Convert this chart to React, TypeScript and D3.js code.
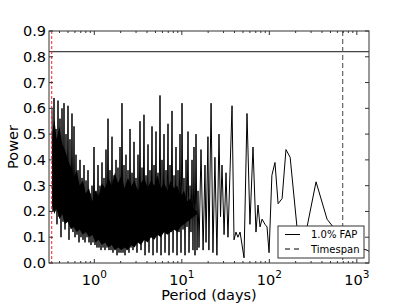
import { area, line, scaleLinear, scaleLog } from 'd3'

// periodogram trace, [period (days), power]
const trace: [number, number][] = [
  [0.3284, 0.6], [0.3372, 0.2], [0.3462, 0.64], [0.3554, 0.22], [0.3649, 0.52], [0.3746, 0.15],
  [0.3846, 0.63], [0.3949, 0.18], [0.4054, 0.56], [0.4162, 0.1], [0.4273, 0.6], [0.4387, 0.16],
  [0.4504, 0.62], [0.4624, 0.13], [0.4747, 0.5], [0.4874, 0.17], [0.5004, 0.61], [0.5137, 0.09],
  [0.5274, 0.48], [0.5415, 0.14], [0.5559, 0.58], [0.5707, 0.12], [0.586, 0.53], [0.6016, 0.1],
  [0.6176, 0.42], [0.6341, 0.11], [0.651, 0.36], [0.6684, 0.08], [0.6862, 0.4], [0.7045, 0.1],
  [0.7233, 0.33], [0.7426, 0.09], [0.7624, 0.38], [0.7827, 0.08], [0.8036, 0.32], [0.825, 0.1],
  [0.847, 0.36], [0.8696, 0.08], [0.8928, 0.27], [0.9166, 0.07], [0.9411, 0.3], [0.9662, 0.08],
  [0.992, 0.45], [1.018, 0.07], [1.046, 0.28], [1.073, 0.06], [1.102, 0.38], [1.131, 0.06],
  [1.162, 0.3], [1.193, 0.05], [1.224, 0.39], [1.257, 0.06], [1.29, 0.33], [1.325, 0.05],
  [1.36, 0.44], [1.396, 0.06], [1.434, 0.56], [1.472, 0.05], [1.511, 0.36], [1.551, 0.05],
  [1.593, 0.49], [1.635, 0.04], [1.679, 0.34], [1.724, 0.05], [1.77, 0.4], [1.817, 0.03],
  [1.865, 0.37], [1.915, 0.04], [1.966, 0.45], [2.018, 0.04], [2.072, 0.62], [2.128, 0.04],
  [2.184, 0.38], [2.243, 0.03], [2.302, 0.42], [2.364, 0.05], [2.427, 0.36], [2.491, 0.04],
  [2.558, 0.52], [2.626, 0.06], [2.696, 0.35], [2.768, 0.05], [2.842, 0.47], [2.918, 0.07],
  [2.995, 0.33], [3.075, 0.04], [3.157, 0.42], [3.241, 0.09], [3.328, 0.55], [3.417, 0.05],
  [3.508, 0.37], [3.601, 0.1], [3.697, 0.575], [3.796, 0.03], [3.897, 0.34], [4.001, 0.11],
  [4.108, 0.46], [4.217, 0.04], [4.33, 0.36], [4.445, 0.12], [4.564, 0.53], [4.685, 0.03],
  [4.81, 0.38], [4.939, 0.11], [5.07, 0.51], [5.206, 0.04], [5.344, 0.35], [5.487, 0.12],
  [5.633, 0.65], [5.783, 0.03], [5.938, 0.4], [6.096, 0.12], [6.258, 0.5], [6.425, 0.04],
  [6.597, 0.36], [6.773, 0.13], [6.953, 0.54], [7.139, 0.03], [7.329, 0.38], [7.525, 0.12],
  [7.725, 0.59], [7.931, 0.04], [8.143, 0.34], [8.36, 0.13], [8.583, 0.45], [8.812, 0.03],
  [9.047, 0.36], [9.288, 0.12], [9.536, 0.5], [9.79, 0.04], [10.05, 0.62], [10.32, 0.13],
  [10.59, 0.33], [10.88, 0.03], [11.17, 0.4], [11.46, 0.14], [11.77, 0.51], [12.08, 0.04],
  [12.41, 0.3], [12.74, 0.12], [13.08, 0.4], [13.42, 0.05], [13.78, 0.45], [14.15, 0.03],
  [14.53, 0.5], [14.92, 0.05], [15.31, 0.28], [15.72, 0.06],
  [16.57, 0.44], [17.5, 0.05], [18.4, 0.38], [18.9, 0.08], [19.9, 0.49],
  [20.4, 0.05], [21.6, 0.62], [22.7, 0.04], [23.9, 0.41], [25.2, 0.03], [26.6, 0.5],
  [27.7, 0.18], [28.8, 0.38], [30.4, 0.11], [32.0, 0.35], [33.7, 0.1], [37.5, 0.61],
  [39.5, 0.09], [41.6, 0.12], [43.8, 0.1], [46.3, 0.12], [48.8, 0.07], [51.4, 0.02],
  [55.6, 0.58], [60.1, 0.15], [65.1, 0.45], [70.4, 0.12], [74.3, 0.225], [78.3, 0.14],
  [82.6, 0.17], [89.3, 0.15], [94.2, 0.14], [99.3, 0.04], [107, 0.34], [116, 0.39],
  [126, 0.23], [140, 0.25], [155, 0.44], [173, 0.41], [207, 0.14], [231, 0.05],
  [270, 0.14], [342, 0.315], [457, 0.17], [535, 0.14], [733, 0.09], [1010, 0.06],
  [1310, 0.05], [1378, 0.045],
]

// the solid black core of the dense short-period part
const bandPeriods = [
  0.33, 0.35, 0.37, 0.4, 0.43, 0.46, 0.5, 0.54, 0.58, 0.63, 0.68, 0.74, 0.8, 0.87, 0.95, 1.03,
  1.12, 1.22, 1.33, 1.45, 1.58, 1.72, 1.87, 2.04, 2.22, 2.42, 2.64, 2.88, 3.14, 3.42, 3.73, 4.07,
  4.44, 4.84, 5.28, 5.76, 6.28, 6.85, 7.47, 8.15, 8.89, 9.7, 10.6, 11.5, 12.6, 13.7, 15,
]
const bandLow = [
  0.22, 0.19, 0.21, 0.17, 0.19, 0.15, 0.16, 0.13, 0.14, 0.12, 0.13, 0.11, 0.12, 0.1, 0.11, 0.08,
  0.09, 0.07, 0.08, 0.06, 0.07, 0.05, 0.06, 0.05, 0.06, 0.05, 0.07, 0.06, 0.08, 0.07, 0.09, 0.08,
  0.1, 0.09, 0.11, 0.1, 0.12, 0.11, 0.12, 0.13, 0.12, 0.14, 0.15, 0.16, 0.17, 0.18, 0.19,
]
const bandHigh = [
  0.5, 0.56, 0.48, 0.53, 0.46, 0.44, 0.4, 0.37, 0.33, 0.36, 0.3, 0.32, 0.27, 0.29, 0.24, 0.28,
  0.26, 0.31, 0.29, 0.33, 0.3, 0.35, 0.31, 0.34, 0.29, 0.33, 0.3, 0.32, 0.28, 0.31, 0.33, 0.29,
  0.32, 0.3, 0.34, 0.29, 0.31, 0.28, 0.32, 0.29, 0.3, 0.26, 0.28, 0.24, 0.25, 0.21, 0.2,
]

const fapLevel = 0.82
const timespan = 690
const windowPeriod = 0.326

const yTicks = [0, 0.1, 0.2, 0.3, 0.4, 0.5, 0.6, 0.7, 0.8, 0.9]
const yTickLabels = ['0.0', '0.1', '0.2', '0.3', '0.4', '0.5', '0.6', '0.7', '0.8', '0.9']
const xDecades = [1, 10, 100, 1000]
const xDecadeExps = ['0', '1', '2', '3']
const legendLabels = ['1.0% FAP', 'Timespan']

const L = 49, R = 369, T = 31, B = 263
const frame = '#333'

export default function App() {
  const x = scaleLog().domain([0.3035, 1378]).range([L, R])
  const y = scaleLinear().domain([0, 0.9]).range([B, T])

  const tracePath = line<[number, number]>()
    .x(d => x(d[0]))
    .y(d => y(d[1]))(trace) ?? ''
  const band = bandPeriods.map((p, i) => ({ p, lo: bandLow[i], hi: bandHigh[i] }))
  const bandPath = area<{ p: number; lo: number; hi: number }>()
    .x(d => x(d.p))
    .y0(d => y(d.lo))
    .y1(d => y(d.hi))(band) ?? ''

  const minorTicks = x.ticks().filter(t => !xDecades.some(d => Math.abs(d - t) < 1e-9))

  const lgX = 278, lgY = 226, lgW = 86, lgH = 32

  return (
    <div style={{ position: 'fixed', left: 0, top: 0 }}>
      <svg width={410} height={307} fontFamily='DejaVu Sans, sans-serif' style={{ display: 'block', background: '#fff' }}>
        <defs>
          <clipPath id='plot'>
            <rect x={L} y={T} width={R - L} height={B - T} />
          </clipPath>
        </defs>
        <g clipPath='url(#plot)'>
          <path d={bandPath} fill='#000' />
          <path d={tracePath} fill='none' stroke='#000' strokeWidth={1} strokeLinejoin='round' />
          <line x1={L} x2={R} y1={y(fapLevel)} y2={y(fapLevel)} stroke='#444' strokeWidth={1.1} />
          <line x1={x(timespan)} x2={x(timespan)} y1={T} y2={B} stroke='#555' strokeWidth={1.1} strokeDasharray='5,3' />
          <line x1={x(windowPeriod)} x2={x(windowPeriod)} y1={T} y2={B} stroke='#f22' strokeWidth={1} strokeDasharray='3,2' />
        </g>

        {/* legend */}
        <rect x={lgX} y={lgY} width={lgW} height={lgH} fill='#fff' stroke={frame} strokeWidth={1} />
        <line x1={lgX + 7} x2={lgX + 22} y1={lgY + 8.5} y2={lgY + 8.5} stroke='#000' strokeWidth={1} />
        <line x1={lgX + 7} x2={lgX + 22} y1={lgY + 23} y2={lgY + 23} stroke='#000' strokeWidth={1} strokeDasharray='5,4' />
        {legendLabels.map((t, i) => (
          <text key={t} x={lgX + 33} y={lgY + 12 + i * 14.5} fontSize={10} fill='#000'>{t}</text>
        ))}

        {/* frame */}
        <rect x={L} y={T} width={R - L} height={B - T} fill='none' stroke={frame} strokeWidth={1} />

        {/* y ticks */}
        {yTicks.map((v, i) => (
          <g key={v}>
            <line x1={L} x2={L + 4} y1={y(v)} y2={y(v)} stroke={frame} />
            <line x1={R} x2={R - 4} y1={y(v)} y2={y(v)} stroke={frame} />
            <text x={L - 3} y={y(v) + 5} fontSize={14.5} textAnchor='end' fill='#000'>{yTickLabels[i]}</text>
          </g>
        ))}

        {/* x ticks */}
        {xDecades.map((d, i) => (
          <g key={d}>
            <line x1={x(d)} x2={x(d)} y1={B} y2={B - 4} stroke={frame} />
            <line x1={x(d)} x2={x(d)} y1={T} y2={T + 4} stroke={frame} />
            <text x={x(d)} y={285} fontSize={14.5} textAnchor='middle' fill='#000'>
              10<tspan dy={-7} fontSize={10.5}>{xDecadeExps[i]}</tspan>
            </text>
          </g>
        ))}
        {minorTicks.map(t => (
          <g key={t}>
            <line x1={x(t)} x2={x(t)} y1={B} y2={B - 2} stroke={frame} />
            <line x1={x(t)} x2={x(t)} y1={T} y2={T + 2} stroke={frame} />
          </g>
        ))}

        <text x={(L + R) / 2} y={300} fontSize={14.5} textAnchor='middle' fill='#000'>Period (days)</text>
        <text transform={`translate(18, ${(T + B) / 2}) rotate(-90)`} fontSize={14.5} textAnchor='middle' fill='#000'>Power</text>
      </svg>
    </div>
  )
}
